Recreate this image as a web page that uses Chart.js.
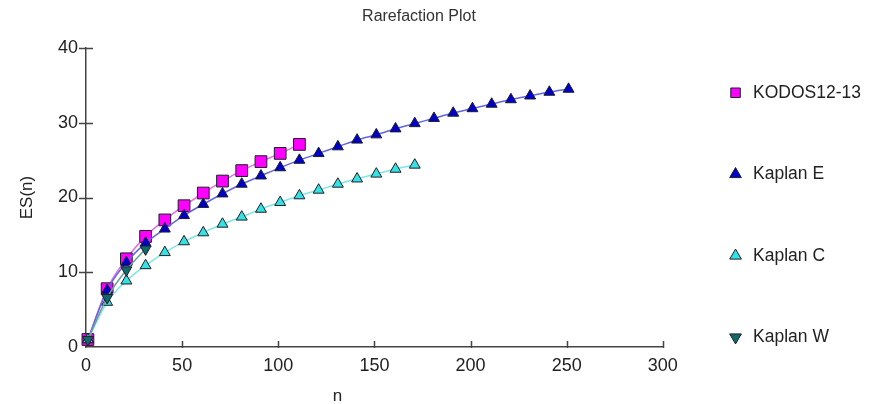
<!DOCTYPE html>
<html>
<head>
<meta charset="utf-8">
<script src="https://cdn.jsdelivr.net/npm/chart.js@4.4.1/dist/chart.umd.min.js"></script>
<style>
  html, body { margin: 0; padding: 0; background: #ffffff; }
  #wrap { width: 871px; height: 404px; position: relative; }
</style>
</head>
<body>
<div id="wrap"><canvas id="c"></canvas></div>
<script>
// ---------- data ----------
const chartTitle = 'Rarefaction Plot';
const xAxisTitle = 'n';
const yAxisTitle = 'ES(n)';
const seriesNames = ['KODOS12-13', 'Kaplan E', 'Kaplan C', 'Kaplan W'];

const xTickStep = 50;
const xMax = 300;
const yTickStep = 10;
const yMax = 40;

const kodosN  = [1, 11, 21, 31, 41, 51, 61, 71, 81, 91, 101, 111];
const kodosES = [1, 7.8, 11.8, 14.8, 17.0, 18.9, 20.6, 22.2, 23.6, 24.8, 25.9, 27.1];

const kaplanEN  = [1, 11, 21, 31, 41, 51, 61, 71, 81, 91, 101, 111, 121, 131, 141, 151, 161, 171, 181, 191, 201, 211, 221, 231, 241, 251];
const kaplanEES = [1, 7.6, 11.3, 13.9, 15.8, 17.6, 19.1, 20.5, 21.8, 22.9, 24.0, 25.0, 25.9, 26.8, 27.7, 28.4, 29.2, 29.9, 30.6, 31.3, 31.9, 32.5, 33.1, 33.6, 34.1, 34.5];

const kaplanCN  = [1, 11, 21, 31, 41, 51, 61, 71, 81, 91, 101, 111, 121, 131, 141, 151, 161, 171];
const kaplanCES = [1, 6.0, 8.85, 10.9, 12.65, 14.1, 15.3, 16.45, 17.4, 18.45, 19.35, 20.25, 21.0, 21.8, 22.5, 23.15, 23.8, 24.35];

const kaplanWN  = [1, 11, 21, 31];
const kaplanWES = [1, 6.6, 10.3, 13.1];

// ---------- helpers ----------
const toPoints = (xs, ys) => xs.map((x, i) => ({ x: x, y: ys[i] }));

Chart.defaults.font.family = '"Liberation Sans", Arial, Helvetica, sans-serif';
Chart.defaults.color = '#222222';

const AXIS_COLOR = '#444444';

const decorPlugin = {
  id: 'decor',
  beforeDatasetsDraw(chart) {
    const ctx = chart.ctx;
    const area = chart.chartArea;
    const xs = chart.scales.x, ys = chart.scales.y;
    ctx.save();
    ctx.strokeStyle = AXIS_COLOR;
    ctx.lineWidth = 1.5;
    ctx.beginPath();
    xs.ticks.forEach(t => {
      if (t.value === xs.min) return;
      const px = Math.round(xs.getPixelForValue(t.value)) + 0.5;
      ctx.moveTo(px, area.bottom - 6);
      ctx.lineTo(px, area.bottom + 1);
    });
    ys.ticks.forEach(t => {
      if (t.value === ys.min) return;
      const py = Math.round(ys.getPixelForValue(t.value)) + 0.5;
      ctx.moveTo(area.left - 7, py);
      ctx.lineTo(area.left + 7, py);
    });
    ctx.stroke();
    ctx.restore();
  },
  afterDraw(chart) {
    const ctx = chart.ctx;
    ctx.save();
    ctx.fillStyle = '#333333';
    ctx.textAlign = 'center';
    ctx.textBaseline = 'middle';
    ctx.font = '16px "Liberation Sans", Arial, sans-serif';
    ctx.fillText(chartTitle, 419, 17);
    ctx.fillStyle = '#222222';
    ctx.font = '17px "Liberation Sans", Arial, sans-serif';
    ctx.fillText(xAxisTitle, 337.5, 396);
    ctx.restore();
  }
};

function series(label, xs, ys, fill, line, style, radius, rotation, order) {
  return {
    label: label,
    data: toPoints(xs, ys),
    order: order,
    borderColor: line,
    backgroundColor: fill,
    borderWidth: 1.5,
    pointStyle: style,
    pointRotation: rotation,
    pointRadius: radius,
    pointHoverRadius: radius,
    pointBackgroundColor: fill,
    pointBorderColor: '#1c1c2a',
    pointBorderWidth: 1,
    tension: 0.3,
    cubicInterpolationMode: 'monotone',
    fill: false,
    clip: false
  };
}

new Chart(document.getElementById('c'), {
  type: 'line',
  data: {
    datasets: [
      series(seriesNames[0], kodosN, kodosES, '#ff00ff', '#e46ee4', 'rect', 8.3, 0, 4),
      series(seriesNames[1], kaplanEN, kaplanEES, '#0000c8', '#6464e6', 'triangle', 6.3, 0, 3),
      series(seriesNames[2], kaplanCN, kaplanCES, '#33e3e3', '#7fe6e6', 'triangle', 6.3, 0, 2),
      series(seriesNames[3], kaplanWN, kaplanWES, '#0f6b6b', '#6f9c9c', 'triangle', 6.3, 180, 1)
    ]
  },
  options: {
    responsive: true,
    maintainAspectRatio: false,
    animation: false,
    devicePixelRatio: 1,
    layout: { padding: { top: 0, left: 0, right: 0, bottom: -6 } },
    plugins: {
      title: { display: false },
      tooltip: { enabled: false },
      legend: {
        position: 'right',
        align: 'end',
        labels: {
          usePointStyle: true,
          boxHeight: 9.5,
          padding: 64,
          color: '#222222',
          font: { size: 17.5 },
          sort: (a, b) => a.datasetIndex - b.datasetIndex
        }
      }
    },
    scales: {
      x: {
        type: 'linear',
        position: 'bottom',
        min: 0,
        max: xMax,
        ticks: { stepSize: xTickStep, padding: 8, color: '#222222', font: { size: 18 } },
        grid: { display: false, drawTicks: false },
        border: { display: true, color: AXIS_COLOR, width: 1.5 },
        afterFit: s => { s.height = 63; }
      },
      y: {
        type: 'linear',
        position: 'left',
        min: 0,
        max: yMax,
        ticks: { stepSize: yTickStep, padding: 8, color: '#222222', font: { size: 18 } },
        grid: { display: false, drawTicks: false },
        border: { display: true, color: AXIS_COLOR, width: 1.5 },
        title: { display: true, text: yAxisTitle, color: '#222222', font: { size: 17 }, padding: { top: 17, bottom: 0 } },
        afterFit: s => { s.width = 86; s.paddingTop = 48; }
      }
    }
  },
  plugins: [decorPlugin]
});
</script>
</body>
</html>
